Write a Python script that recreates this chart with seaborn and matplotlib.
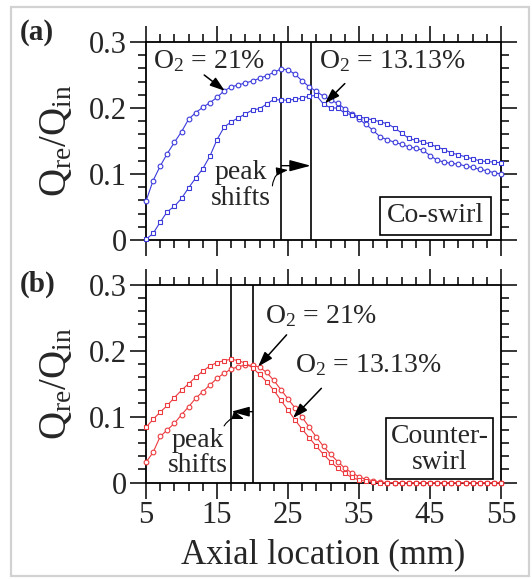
import numpy as np
import matplotlib
matplotlib.use("Agg")
import matplotlib.pyplot as plt
from matplotlib.ticker import FixedLocator, FuncFormatter
from matplotlib.patches import Rectangle
import seaborn as sns

# ---------------- data ----------------
axial = list(range(5, 56))

co_o2_21 = [0.059, 0.090, 0.112, 0.131, 0.148, 0.164, 0.183, 0.193, 0.201, 0.208,
            0.216, 0.226, 0.232, 0.235, 0.238, 0.241, 0.245, 0.249, 0.254, 0.259,
            0.258, 0.251, 0.241, 0.232, 0.225, 0.218, 0.212, 0.207, 0.199, 0.191,
            0.183, 0.175, 0.166, 0.156, 0.152, 0.148, 0.145, 0.141, 0.139, 0.136,
            0.128, 0.121, 0.118, 0.116, 0.115, 0.112, 0.110, 0.107, 0.105, 0.102,
            0.100]
co_o2_13 = [0.001, 0.010, 0.027, 0.043, 0.051, 0.063, 0.079, 0.094, 0.108, 0.127,
            0.152, 0.171, 0.179, 0.185, 0.191, 0.197, 0.199, 0.206, 0.213, 0.212,
            0.212, 0.213, 0.215, 0.218, 0.219, 0.206, 0.200, 0.200, 0.192, 0.190,
            0.187, 0.184, 0.182, 0.179, 0.176, 0.170, 0.162, 0.154, 0.151, 0.149,
            0.145, 0.141, 0.137, 0.132, 0.129, 0.126, 0.123, 0.120, 0.119, 0.118,
            0.117]

ct_o2_21 = [0.031, 0.046, 0.070, 0.080, 0.090, 0.103, 0.115, 0.128, 0.138, 0.148,
            0.158, 0.166, 0.172, 0.176, 0.178, 0.178, 0.175, 0.167, 0.155, 0.141,
            0.127, 0.113, 0.099, 0.084, 0.069, 0.055, 0.043, 0.032, 0.022, 0.015,
            0.009, 0.005, 0.003, 0.001] + [0.0] * 17
ct_o2_13 = [0.084, 0.096, 0.107, 0.117, 0.129, 0.140, 0.150, 0.160, 0.169, 0.177,
            0.182, 0.185, 0.187, 0.185, 0.181, 0.174, 0.164, 0.153, 0.140, 0.125,
            0.110, 0.095, 0.081, 0.068, 0.055, 0.043, 0.032, 0.022, 0.014, 0.008,
            0.004, 0.002, 0.001] + [0.0] * 18

peaks_co = [24, 28.2]
peaks_ct = [17, 20]

x_major = [5, 15, 25, 35, 45, 55]
y_major = [0, 0.1, 0.2, 0.3]

# ---------------- style ----------------
sns.set_style("ticks")
plt.rcParams["font.family"] = ["Liberation Serif", "DejaVu Serif"]
plt.rcParams["mathtext.fontset"] = "custom"
plt.rcParams["mathtext.rm"] = "Liberation Serif"
plt.rcParams["mathtext.it"] = "Liberation Serif:italic"
plt.rcParams["mathtext.bf"] = "Liberation Serif:bold"

BLUE = "#3b3bdc"
RED = "#ec3a3f"

W, H = 532, 579
fig = plt.figure(figsize=(W / 100, H / 100), dpi=100)

def px_axes(l, r, t, b):
    return [l / W, 1 - b / H, (r - l) / W, (b - t) / H]

ax_a = fig.add_axes(px_axes(146, 501, 42, 240))
ax_b = fig.add_axes(px_axes(146, 501, 284.7, 482.7))

def style_axes(ax, xlabels):
    ax.set_xlim(5, 55)
    ax.set_ylim(0, 0.3)
    ax.xaxis.set_major_locator(FixedLocator(x_major))
    ax.xaxis.set_minor_locator(FixedLocator(np.arange(5, 56, 2)))
    ax.yaxis.set_major_locator(FixedLocator(y_major))
    ax.yaxis.set_minor_locator(FixedLocator(np.arange(0, 0.301, 0.02)))
    ax.yaxis.set_major_formatter(FuncFormatter(lambda v, p: "0" if abs(v) < 1e-9 else f"{v:.1f}"))
    ax.tick_params(which="both", direction="out", top=True, right=True,
                   bottom=True, left=True, color="black", width=1.1)
    ax.tick_params(which="major", length=11.5, labelsize=22, pad=2)
    ax.tick_params(which="minor", length=5.5)
    ax.tick_params(axis="x", labelbottom=xlabels, labeltop=False)
    ax.tick_params(axis="y", labelright=False)
    for s in ax.spines.values():
        s.set_linewidth(1.3)
        s.set_color("black")
    ax.set_xlabel("")
    ax.set_ylabel("")

line_kw = dict(linewidth=0.8, markersize=3.4, markerfacecolor="white",
               markeredgewidth=0.8, clip_on=False, zorder=3)

# ---------- panel (a) ----------
sns.lineplot(x=axial, y=co_o2_21, ax=ax_a, color=BLUE, marker="o",
             markeredgecolor=BLUE, **line_kw)
sns.lineplot(x=axial, y=co_o2_13, ax=ax_a, color=BLUE, marker="s",
             markeredgecolor=BLUE, **line_kw)
for xv in peaks_co:
    ax_a.axvline(xv, color="black", lw=1.2, zorder=2)
style_axes(ax_a, False)

ax_a.text(6.0, 0.261, "O$_2$ = 21%", fontsize=20, ha="left", va="baseline")
ax_a.text(29.4, 0.261, "O$_2$ = 13.13%", fontsize=20, ha="left", va="baseline")
arr = dict(arrowstyle="-|>,head_length=0.9,head_width=0.3", color="black",
           lw=1.1, mutation_scale=10, shrinkA=0, shrinkB=0)
ax_a.annotate("", xy=(16.1, 0.226), xytext=(13.2, 0.250), arrowprops=arr)
ax_a.annotate("", xy=(30.2, 0.207), xytext=(33.0, 0.237), arrowprops=arr)
ax_a.text(18.4, 0.082, "peak\nshifts", fontsize=20, ha="center", va="center",
          linespacing=1.05)
ax_a.annotate("", xy=(peaks_co[1], 0.1126), xytext=(peaks_co[0] + 0.1, 0.1126),
              arrowprops=dict(arrowstyle="-|>,head_length=1.3,head_width=0.35",
                              color="black", lw=1.0, mutation_scale=10,
                              shrinkA=0, shrinkB=0))
ax_a.annotate("", xy=(25.0, 0.106), xytext=(22.8, 0.082),
              arrowprops=dict(arrowstyle="-|>,head_length=0.7,head_width=0.25",
                              color="black", lw=0.8, mutation_scale=10,
                              shrinkA=0, shrinkB=0,
                              connectionstyle="arc3,rad=-0.4"))
ax_a.add_patch(Rectangle((38.0, 0.0076), 15.6, 0.058, fill=False,
                         edgecolor="black", lw=1.2, zorder=4))
ax_a.text(45.8, 0.0366, "Co-swirl", fontsize=20, ha="center", va="center")

# ---------- panel (b) ----------
sns.lineplot(x=axial, y=ct_o2_21, ax=ax_b, color=RED, marker="o",
             markeredgecolor=RED, **line_kw)
sns.lineplot(x=axial, y=ct_o2_13, ax=ax_b, color=RED, marker="s",
             markeredgecolor=RED, **line_kw)
for xv in peaks_ct:
    ax_b.axvline(xv, color="black", lw=1.2, zorder=2)
style_axes(ax_b, True)

ax_b.text(21.8, 0.242, "O$_2$ = 21%", fontsize=20, ha="left", va="baseline")
ax_b.text(26.0, 0.168, "O$_2$ = 13.13%", fontsize=20, ha="left", va="baseline")
ax_b.annotate("", xy=(20.8, 0.176), xytext=(24.8, 0.224), arrowprops=arr)
ax_b.annotate("", xy=(25.7, 0.098), xytext=(29.7, 0.143), arrowprops=arr)
ax_b.text(12.3, 0.045, "peak\nshifts", fontsize=20, ha="center", va="center",
          linespacing=1.05)
ax_b.annotate("", xy=(peaks_ct[0], 0.1076), xytext=(peaks_ct[1], 0.1076),
              arrowprops=dict(arrowstyle="-|>,head_length=1.1,head_width=0.3",
                              color="black", lw=1.0, mutation_scale=10,
                              shrinkA=0, shrinkB=0))
ax_b.annotate("", xy=(18.8, 0.0966), xytext=(16.0, 0.086),
              arrowprops=dict(arrowstyle="-|>,head_length=0.7,head_width=0.25",
                              color="black", lw=0.8, mutation_scale=10,
                              shrinkA=0, shrinkB=0,
                              connectionstyle="arc3,rad=-0.4"))
ax_b.add_patch(Rectangle((38.8, 0.0056), 15.1, 0.092, fill=False,
                         edgecolor="black", lw=1.2, zorder=4))
ax_b.text(46.4, 0.050, "Counter-\nswirl", fontsize=20, ha="center", va="center",
          linespacing=1.05)
ax_b.set_xlabel("Axial location (mm)", fontsize=25, labelpad=6)

# y labels and panel labels
ylab = r"$\mathregular{Q_{re}/Q_{in}}$"
fig.text(57 / W, 1 - 141 / H, ylab, rotation=90, fontsize=28, ha="center", va="center")
fig.text(57 / W, 1 - 383.7 / H, ylab, rotation=90, fontsize=28, ha="center", va="center")
fig.text(37 / W, 1 - 33 / H, "(a)", fontsize=21, fontweight="bold", ha="center", va="center")
fig.text(38 / W, 1 - 284 / H, "(b)", fontsize=21, fontweight="bold", ha="center", va="center")

# light grey frame around the figure
fig.patches.append(Rectangle((11 / W, 3 / H), 518 / W, 569 / H, transform=fig.transFigure,
                             fill=False, edgecolor="#d2d2d2", lw=1.6))

fig.savefig("out.png", dpi=100)
